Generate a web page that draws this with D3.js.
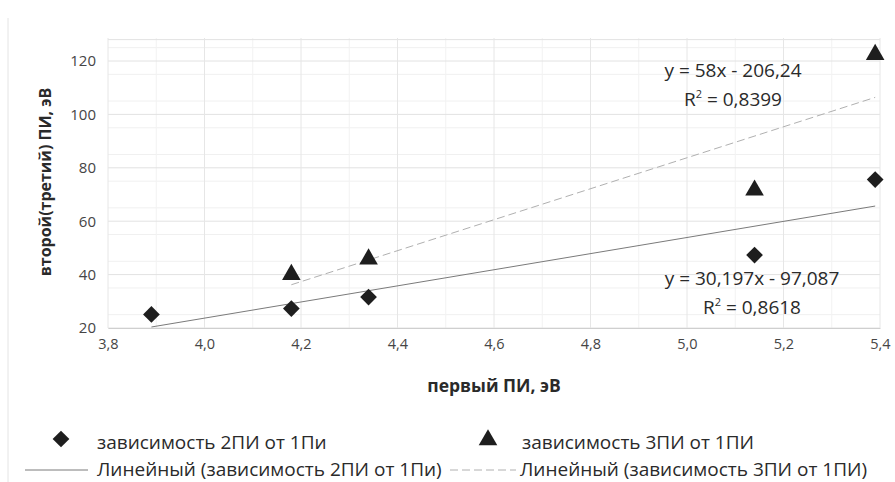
<!DOCTYPE html>
<html><head><meta charset="utf-8">
<script src="https://cdn.jsdelivr.net/npm/d3@7"></script>
<style>body{margin:0;background:#fff}svg{display:block}text{font-family:"Open Sans","Noto Sans",sans-serif}</style>
</head><body>
<script>
const xVals2 = [3.89, 4.18, 4.34, 5.14, 5.39];
const yVals2 = [25.1, 27.3, 31.6, 47.3, 75.6];
const xVals3 = [4.18, 4.34, 5.14, 5.39];
const yVals3 = [40.0, 45.8, 71.6, 122.4];
const fit2 = {a: 30.197, b: -97.087, x0: 3.89, x1: 5.39};
const fit3 = {a: 58, b: -206.24, x0: 4.18, x1: 5.39};
const xTicks = [3.8, 4.0, 4.2, 4.4, 4.6, 4.8, 5.0, 5.2, 5.4];
const yTicks = [20, 40, 60, 80, 100, 120];
const seriesNames = ["зависимость 2ПИ от 1Пи", "зависимость 3ПИ от 1ПИ", "Линейный (зависимость 2ПИ от 1Пи)", "Линейный (зависимость 3ПИ от 1ПИ)"];
const eq2 = ["y = 30,197x - 97,087", "0,8618"];
const eq3 = ["y = 58x - 206,24", "0,8399"];

const W = 895, H = 482;
const svg = d3.select("body").append("svg").attr("width", W).attr("height", H);
const x = d3.scaleLinear().domain([3.8, 5.4]).range([108, 880]);
const y = d3.scaleLinear().domain([20, 120]).range([328, 61]);

// chart border
svg.append("line").attr("x1", 8).attr("x2", 8).attr("y1", 18).attr("y2", H).attr("stroke", "#e4e4e4");

// minor grid
const g = svg.append("g");
d3.range(25, 130, 10).forEach(v => {
  g.append("line").attr("x1", 108).attr("x2", 880).attr("y1", y(v)).attr("y2", y(v)).attr("stroke", "#f0f0f0");
});
d3.range(3.9, 5.4, 0.2).forEach(v => {
  g.append("line").attr("x1", x(v)).attr("x2", x(v)).attr("y1", 38).attr("y2", 328).attr("stroke", "#f2f2f2");
});
// major grid
g.selectAll(".gy").data(yTicks.concat([128])).enter().append("line")
  .attr("x1", 108).attr("x2", 880).attr("y1", d => y(d)).attr("y2", d => y(d)).attr("stroke", "#e2e2e2");
g.selectAll(".gx").data(xTicks).enter().append("line")
  .attr("x1", d => x(d)).attr("x2", d => x(d)).attr("y1", 38).attr("y2", 328).attr("stroke", "#e6e6e6");

// axes (labels only)
const xa = svg.append("g").attr("transform", "translate(0,328)")
  .call(d3.axisBottom(x).tickValues(xTicks).tickFormat(d => d3.format(".1f")(d).replace(".", ",")).tickSize(0).tickPadding(11));
xa.select(".domain").attr("stroke", "#cfcfcf");
xa.selectAll("text").attr("font-size", 14.5).attr("fill", "#454545").attr("font-family", "Open Sans");
const ya = svg.append("g").attr("transform", "translate(108,0)")
  .call(d3.axisLeft(y).tickValues(yTicks).tickSize(0).tickPadding(12));
ya.select(".domain").remove();
ya.selectAll("text").attr("font-size", 15).attr("fill", "#454545").attr("font-family", "Open Sans");

// trendlines
const line = d3.line().x(d => x(d[0])).y(d => y(d[1]));
svg.append("path").attr("d", line([[fit2.x0, fit2.a*fit2.x0+fit2.b],[fit2.x1, fit2.a*fit2.x1+fit2.b]]))
  .attr("stroke", "#7a7a7a").attr("stroke-width", 1).attr("fill", "none");
svg.append("path").attr("d", line([[fit3.x0, fit3.a*fit3.x0+fit3.b],[fit3.x1, fit3.a*fit3.x1+fit3.b]]))
  .attr("stroke", "#b0b0b0").attr("stroke-width", 1).attr("stroke-dasharray", "8,4").attr("fill", "none");

// markers
const dia = d3.symbol().type(d3.symbolSquare).size(140);
svg.selectAll(".d").data(xVals2.map((v,i)=>[v,yVals2[i]])).enter().append("path")
  .attr("d", dia()).attr("fill", "#1e1e1e")
  .attr("transform", d => `translate(${x(d[0])},${y(d[1])}) rotate(45)`);
const tri = d3.symbol().type(d3.symbolTriangle).size(150);
svg.selectAll(".t").data(xVals3.map((v,i)=>[v,yVals3[i]])).enter().append("path")
  .attr("d", tri()).attr("fill", "#1e1e1e")
  .attr("transform", d => `translate(${x(d[0])},${y(d[1])})`);

// equations
function eq(cx, cy, e) {
  svg.append("text").attr("x", cx).attr("y", cy).attr("text-anchor", "middle").attr("font-size", 19).attr("fill", "#2a2a2a").text(e[0]);
  const t = svg.append("text").attr("x", cx).attr("y", cy + 29).attr("text-anchor", "middle").attr("font-size", 19).attr("fill", "#2a2a2a");
  t.append("tspan").text("R");
  t.append("tspan").attr("font-size", 11).attr("dy", -8).text("2");
  t.append("tspan").attr("dy", 8).text(" = " + e[1]);
}
eq(733, 77, eq3);
eq(752, 285, eq2);

// axis titles
svg.append("text").attr("x", 494).attr("y", 392).attr("text-anchor", "middle").attr("font-size", 17.5).attr("font-weight", "bold").attr("fill", "#2a2a2a").text("первый ПИ, эВ");
svg.append("text").attr("transform", "translate(51,182) rotate(-90)").attr("text-anchor", "middle").attr("font-size", 16).attr("font-weight", "bold").attr("fill", "#2a2a2a").text("второй(третий) ПИ, эВ");

// legend
const lg = svg.append("g").attr("font-size", 19);
lg.append("path").attr("d", dia()).attr("fill", "#1e1e1e").attr("transform", "translate(61,439) rotate(45)");
lg.append("text").attr("x", 97).attr("y", 449).attr("fill", "#2a2a2a").text(seriesNames[0]);
lg.append("path").attr("d", tri()).attr("fill", "#1e1e1e").attr("transform", "translate(488,440)");
lg.append("text").attr("x", 522).attr("y", 449).attr("fill", "#2a2a2a").text(seriesNames[1]);
lg.append("line").attr("x1", 25).attr("x2", 88).attr("y1", 470).attr("y2", 470).attr("stroke", "#7a7a7a");
lg.append("text").attr("x", 97).attr("y", 476).attr("fill", "#2a2a2a").text(seriesNames[2]);
lg.append("line").attr("x1", 450).attr("x2", 516).attr("y1", 470).attr("y2", 470).attr("stroke", "#b0b0b0").attr("stroke-dasharray", "8,4");
lg.append("text").attr("x", 520).attr("y", 476).attr("fill", "#2a2a2a").text(seriesNames[3]);
</script>
</body></html>
